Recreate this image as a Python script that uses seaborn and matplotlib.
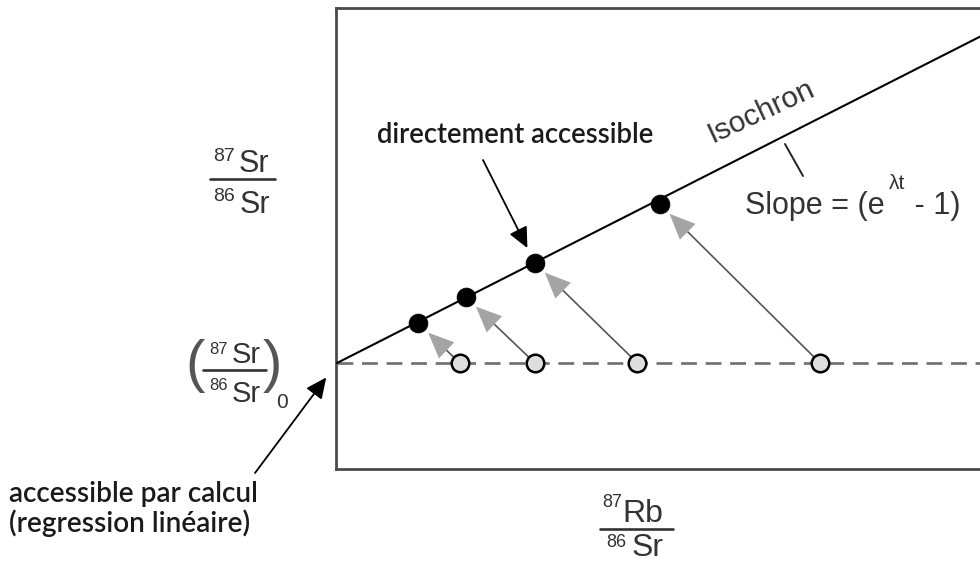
import numpy as np
import matplotlib
matplotlib.use("Agg")
import matplotlib.pyplot as plt
from matplotlib.lines import Line2D
import seaborn as sns

# Rb/Sr ratios when the rocks formed (open circles) and today (filled dots)
rb_sr_initial = [1.21, 1.95, 2.96, 4.76]
rb_sr_today = [0.80, 1.27, 1.95, 3.18]
# 87Sr/86Sr measured today on the same samples
sr_today = [0.7080, 0.7106, 0.7140, 0.7199]
# common initial 87Sr/86Sr and isochron slope (e^(lambda t) - 1)
sr_initial = 0.7040
isochron_slope = 0.00515

W, H = 980, 564
ARIAL = "Liberation Sans"
HUMAN = "Lato"
INK = "#333333"

sns.set_theme(style="white")
plt.rcParams["font.family"] = [ARIAL, "DejaVu Sans"]

fig = plt.figure(figsize=(W / 100, H / 100), dpi=100)
fig.patch.set_facecolor("white")


def fxy(px, py):
    """pixel position (from top-left) -> figure fraction"""
    return px / W, 1 - py / H


# plotting frame: left edge at x=336 px, top 8 px, bottom 469 px, open on the right
left, top, bottom = 336, 8, 469
ax = fig.add_axes([left / W, 1 - bottom / H, 1.02 - left / W, (bottom - top) / H])
ax.set_xlim(-0.01, 6.53)
ax.set_ylim(0.6934, 0.7395)
ax.set_xticks([])
ax.set_yticks([])
ax.set_facecolor("white")
for side in ("left", "top", "bottom"):
    ax.spines[side].set_color("#4a4a4a")
    ax.spines[side].set_linewidth(2.0)
ax.spines["right"].set_visible(False)

xmax = ax.get_xlim()[1]

# initial ratio (dashed) and isochron
sns.lineplot(x=[0, xmax], y=[sr_initial, sr_initial], ax=ax, color="#6e6e6e",
             lw=1.9, linestyle=(0, (6.0, 3.3)), zorder=2)
iso_x = np.array([0, xmax])
sns.lineplot(x=iso_x, y=sr_initial + isochron_slope * iso_x, ax=ax, color="black",
             lw=1.5, zorder=3)

# evolution arrows: grey shaft + pale arrow head
for xi, xp, yp in zip(rb_sr_initial, rb_sr_today, sr_today):
    ax.annotate("", xy=(xp, yp), xytext=(xi, sr_initial),
                arrowprops=dict(arrowstyle="-", color="#555555", lw=1.2,
                                shrinkA=6, shrinkB=14), zorder=3)
    ax.annotate("", xy=(xp, yp), xytext=(xi, sr_initial),
                arrowprops=dict(arrowstyle="-|>,head_length=1.15,head_width=0.5",
                                mutation_scale=16, fc="#a4a4a4", ec="#a4a4a4",
                                lw=0, shrinkA=6, shrinkB=10), zorder=4)

sns.scatterplot(x=rb_sr_initial, y=[sr_initial] * len(rb_sr_initial), ax=ax,
                s=160, color="#dedede", edgecolor="black", linewidth=1.8, zorder=5)
sns.scatterplot(x=rb_sr_today, y=sr_today, ax=ax, s=185, color="black",
                edgecolor="black", linewidth=0.5, zorder=6)

# annotations
fig.text(*fxy(377, 143), "directement accessible", family=HUMAN, fontsize=19.8,
         fontweight="semibold", color="#1a1a1a", ha="left", va="baseline")
ax.annotate("", xy=(rb_sr_today[2], sr_today[2]), xycoords="data",
            xytext=fxy(483, 160), textcoords="figure fraction",
            arrowprops=dict(arrowstyle="-|>,head_length=0.9,head_width=0.42",
                            mutation_scale=14, color="black", lw=1.3,
                            shrinkA=0, shrinkB=12))

fig.text(*fxy(9, 502), "accessible par calcul", family=HUMAN, fontsize=20.2,
         fontweight="semibold", color="#1a1a1a", ha="left", va="baseline")
fig.text(*fxy(9, 532), "(regression linéaire)", family=HUMAN, fontsize=20.2,
         fontweight="semibold", color="#1a1a1a", ha="left", va="baseline")
ax.annotate("", xy=(0, sr_initial), xycoords="data",
            xytext=fxy(255, 473), textcoords="figure fraction",
            arrowprops=dict(arrowstyle="-|>,head_length=0.9,head_width=0.42",
                            mutation_scale=14, color="black", lw=1.3,
                            shrinkA=0, shrinkB=13))

# isochron label and slope
fig.text(*fxy(712, 143), "Isochron", fontsize=21.5, color=INK, rotation=25,
         rotation_mode="anchor", ha="left", va="baseline")
fig.add_artist(Line2D([fxy(785, 144)[0], fxy(803, 176)[0]],
                      [fxy(785, 144)[1], fxy(803, 176)[1]],
                      transform=fig.transFigure, color="#222222", lw=1.4))
fig.text(*fxy(745, 214), "Slope = (e", fontsize=22, color=INK,
         ha="left", va="baseline")
fig.text(*fxy(889, 189), "λt", fontsize=15, color=INK,
         ha="left", va="baseline")
fig.text(*fxy(906, 214), " - 1)", fontsize=22, color=INK,
         ha="left", va="baseline")


def ratio(x_num, x_den, y_num, y_den, bar, top_el, bot_el, iso_size, el_size):
    """stacked isotope ratio built from superscripted mass numbers"""
    fig.text(*fxy(x_num[0], y_num[0]), top_el[0], fontsize=iso_size,
             color=INK, ha="left", va="baseline")
    fig.text(*fxy(x_num[1], y_num[1]), top_el[1], fontsize=el_size,
             color=INK, ha="left", va="baseline")
    fig.text(*fxy(x_den[0], y_den[0]), bot_el[0], fontsize=iso_size,
             color=INK, ha="left", va="baseline")
    fig.text(*fxy(x_den[1], y_den[1]), bot_el[1], fontsize=el_size,
             color=INK, ha="left", va="baseline")
    (bx0, bx1, by) = bar
    fig.add_artist(Line2D([bx0 / W, bx1 / W], [1 - by / H] * 2,
                          transform=fig.transFigure, color=INK, lw=1.9))


# y quantity
ratio((213, 239), (213, 240), (161, 172), (201, 213), (210, 275, 179),
      ("87", "Sr"), ("86", "Sr"), 14, 22)
# initial ratio
ratio((209, 232), (209, 232), (354, 363), (390, 402), (203, 266, 370),
      ("87", "Sr"), ("86", "Sr"), 12, 21)
fig.text(*fxy(185, 381), "(", fontsize=42, color="#555555", ha="left",
         va="baseline")
fig.text(*fxy(263, 381), ")", fontsize=42, color="#555555", ha="left",
         va="baseline")
fig.text(*fxy(276, 408), "0", fontsize=15, color=INK, ha="left",
         va="baseline")
# x quantity
ratio((602, 622), (606, 632), (507, 522), (547, 556), (600, 673, 529),
      ("87", "Rb"), ("86", "Sr"), 13, 23)

fig.savefig("out.png", dpi=100, facecolor="white")
